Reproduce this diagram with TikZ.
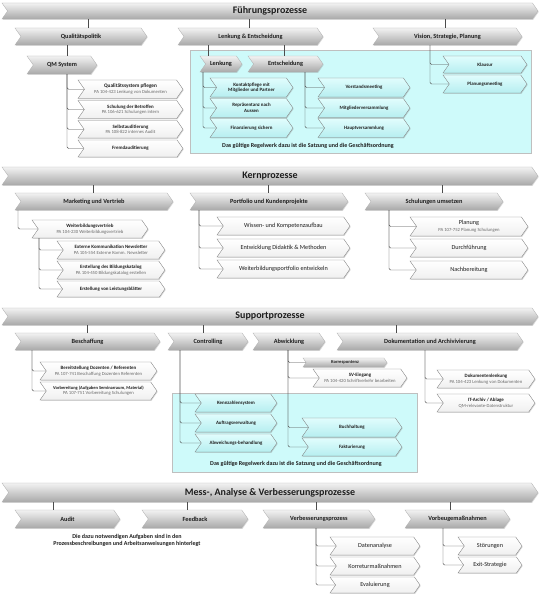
\documentclass[tikz,border=0pt]{standalone}
\usepackage{fontspec}
\setmainfont{Carlito}
\usetikzlibrary{shapes.symbols,shadows}
\definecolor{subc}{RGB}{105,105,105}
\definecolor{cyanA}{RGB}{225,253,253}
\definecolor{cyanB}{RGB}{182,238,240}
\definecolor{cyanC}{RGB}{206,250,250}
\definecolor{txt}{RGB}{30,30,30}
\newcommand\myfs[2]{\fontsize{#1}{#2}\selectfont}
\newcommand\pasub[1]{\\{\mdseries\color{subc}\myfs{4.7}{5.4}#1}}
\newcommand\chv[7]{%
  \pgfmathsetmacro\cw{#4-#3}\pgfmathsetmacro\ch{#6-#5}%
  \pgfmathsetmacro\cx{(#3+#4)/2}\pgfmathsetmacro\cy{(#5+#6)/2}%
  \node[#1, minimum width=\cw pt, minimum height=\ch pt] (#2) at (\cx,\cy) {#7};}
\newcommand\vconn[3]{\coordinate (tmpx) at (#3,0);\draw[conn] (#1.south -| tmpx) -- (#2.north -| tmpx);}
\newcommand\bconn[3]{\coordinate (tmpx) at (#3,0);\draw[conn] (#1.south -| tmpx) |- (#2.west);}
\tikzset{
  chev/.style={signal, signal from=west, signal to=east, signal pointer angle=110,
    inner sep=0pt, align=center, text=txt,
    drop shadow={shadow xshift=0.7pt, shadow yshift=-0.9pt, opacity=0.3}},
  banner/.style={chev, top color=black!5, bottom color=black!34, draw=black!30, line width=0.3pt,
    font=\bfseries\myfs{10}{12}},
  grp/.style={chev, top color=black!5, bottom color=black!34, draw=black!30, line width=0.3pt,
    font=\bfseries\myfs{6.3}{7}},
  wbox/.style={chev, top color=white, bottom color=black!6, draw=black!50, line width=0.35pt,
    font=\bfseries\myfs{4.9}{5.6}},
  wboxn/.style={wbox, font=\mdseries\myfs{6.2}{7}},
  cbox/.style={wbox, top color=cyanA, bottom color=cyanB},
  area/.style={draw=black!25, line width=0.3pt, fill=cyanC, inner sep=0pt, anchor=north west,
    drop shadow={shadow xshift=1pt, shadow yshift=-1pt, opacity=0.25}},
  conn/.style={draw=black!70, line width=0.45pt, rounded corners=1.5pt},
  note/.style={font=\bfseries\myfs{6}{7.4}, align=center, text=txt, inner sep=0pt}
}
\begin{document}
\begin{tikzpicture}[x=1pt,y=-1pt]
\useasboundingbox[fill=white] (0,0) rectangle (540,599);
% ---------------- Fuehrungsprozesse
\node[area, minimum width=341pt, minimum height=103pt] (ar1) at (190,50) {};
\chv{banner}{b1}{2}{538}{3}{19}{Führungsprozesse}
\chv{grp}{qp}{15}{147}{28}{45}{Qualitätspolitik}
\chv{grp}{le}{178}{323}{28}{45}{Lenkung \& Entscheidung}
\chv{grp}{vs}{373}{522}{28}{45}{Vision, Strategie, Planung}
\chv{grp}{qm}{27}{97}{56}{74}{QM System}
\chv{wbox,font=\bfseries\myfs{5.3}{6}}{q1}{78}{183}{80}{98.5}{Qualitätssystem pflegen\pasub{PA 104-423 Lenkung von Dokumenten}}
\chv{wbox}{q2}{78}{183}{100.5}{118.5}{Schulung der Betroffen\pasub{PA 106-621 Schulungen intern}}
\chv{wbox}{q3}{78}{183}{120.5}{138}{Selbstauditierung\pasub{PA 108-822 internes Audit}}
\chv{wbox}{q4}{78}{183}{140}{157}{Fremdauditierung}
\chv{grp}{lk}{200}{242}{56}{72}{Lenkung}
\chv{grp}{en}{248}{323}{56}{72}{Entscheidung}
\chv{cbox}{l1}{210}{293}{78}{97}{Kontaktpflege mit\\Mitglieder und Partner}
\chv{cbox}{l2}{210}{293}{98.5}{117.5}{Repräsentanz nach\\Aussen}
\chv{cbox}{l3}{210}{293}{118.5}{137.5}{Finanzierung sichern}
\chv{cbox}{e1}{318}{410}{78}{97}{Vorstandsmeeting}
\chv{cbox}{e2}{318}{410}{98.5}{117.5}{Mitgliederversammlung}
\chv{cbox}{e3}{318}{410}{118.5}{137.5}{Hauptversammlung}
\chv{cbox}{v1}{443}{527}{56}{73}{Klausur}
\chv{cbox}{v2}{443}{527}{75}{93}{Planungsmeeting}
\node[note] (n1) at (308,146) {Das gültige Regelwerk dazu ist die Satzung und die Geschäftsordnung};
\vconn{b1}{qp}{88}\vconn{b1}{le}{249}\vconn{b1}{vs}{445}
\vconn{qp}{qm}{67}
\bconn{qm}{q1}{67}\bconn{qm}{q2}{67}\bconn{qm}{q3}{67}\bconn{qm}{q4}{67}
\vconn{le}{lk}{208}\vconn{le}{en}{284}
\bconn{lk}{l1}{203}\bconn{lk}{l2}{203}\bconn{lk}{l3}{203}
\bconn{en}{e1}{305}\bconn{en}{e2}{305}\bconn{en}{e3}{305}
\bconn{vs}{v1}{430}\bconn{vs}{v2}{430}
% ---------------- Kernprozesse
\chv{banner}{b2}{2}{538}{167}{185}{Kernprozesse}
\chv{grp}{mv}{15}{173}{193}{210}{Marketing und Vertrieb}
\chv{grp}{pk}{190}{348}{193}{210}{Portfolio und Kundenprojekte}
\chv{grp}{su}{365}{503}{193}{210}{Schulungen umsetzen}
\chv{wbox}{wv}{32}{148}{220}{238}{Weiterbildungsvertrieb\pasub{PA 104-230 Weiterbildungsvertrieb}}
\chv{wbox}{m1}{57}{165}{241}{259}{Externe Kommunikation Newsletter\pasub{PA 105-554 Externe Komm. Newsletter}}
\chv{wbox}{m2}{57}{165}{261}{279}{Erstellung des Bildungskatalog\pasub{PA 104-450 Bildungskatalog erstellen}}
\chv{wbox}{m3}{57}{165}{281}{297}{Erstellung von Leistungsblätter}
\chv{wboxn}{p1}{217}{350}{217}{235}{Wissen- und Kompetenzaufbau}
\chv{wboxn}{p2}{217}{350}{239}{257}{Entwicklung Didaktik \& Methoden}
\chv{wboxn}{p3}{217}{350}{260}{278}{Weiterbildungsportfolio entwickeln}
\chv{wboxn}{s1}{410}{528}{217}{236}{Planung\pasub{PA 107-752 Planung Schulungen}}
\chv{wboxn}{s2}{410}{528}{239}{257}{Durchführung}
\chv{wboxn}{s3}{410}{528}{261}{279}{Nachbereitung}
\vconn{b2}{mv}{93}\vconn{b2}{pk}{268}\vconn{b2}{su}{442}
\bconn{mv}{wv}{18}
\bconn{wv}{m1}{39}\bconn{wv}{m2}{39}\bconn{wv}{m3}{39}
\bconn{pk}{p1}{199}\bconn{pk}{p2}{199}\bconn{pk}{p3}{199}
\bconn{su}{s1}{389}\bconn{su}{s2}{389}\bconn{su}{s3}{389}
% ---------------- Supportprozesse
\node[area, minimum width=245pt, minimum height=79pt] (ar2) at (172,393) {};
\chv{banner}{b3}{2}{538}{308}{325}{Supportprozesse}
\chv{grp}{bs}{15}{160}{333}{350}{Beschaffung}
\chv{grp}{ct}{168}{248}{333}{350}{Controlling}
\chv{grp}{aw}{253}{325}{333}{350}{Abwicklung}
\chv{grp}{dk}{337}{523}{333}{350}{Dokumentation und Archivivierung}
\chv{wbox}{bs1}{40}{157}{362}{380}{Bereitstellung Dozenten / Referenten\pasub{PA 107-741 Beschaffung Dozenten Referenten}}
\chv{wbox,font=\bfseries\myfs{4.5}{5.3}}{bs2}{40}{157}{382}{400}{Vorbereitung (Aufgaben Seminarraum, Material)\pasub{PA 107-751 Vorbereitung Schulungen}}
\chv{cbox}{c1}{195}{277}{394}{412}{Kennzahlensystem}
\chv{cbox}{c2}{195}{277}{414}{432}{Auftragsverwaltung}
\chv{cbox}{c3}{195}{277}{434}{452}{Abweichungs-behandlung}
\chv{grp,font=\bfseries\myfs{4.6}{5}}{ko}{303}{387}{358}{367}{Korrespontenz}
\chv{wbox}{sv}{313}{407}{369}{387}{SV-Eingang\pasub{PA 104-420 Schriftverkehr bearbeiten}}
\chv{cbox}{bh}{302}{402}{418}{437}{Buchhaltung}
\chv{cbox}{fk}{302}{402}{438}{456}{Fakturierung}
\chv{wbox}{d1}{437}{535}{370}{388}{Dokumentenlenkung\pasub{PA 104-423 Lenkung von Dokumenten}}
\chv{wbox}{d2}{437}{535}{394}{412}{IT-Archiv / Ablage\pasub{QM-relevante-Datenstruktur}}
\node[note] (n2) at (296,464) {Das gültige Regelwerk dazu ist die Satzung und die Geschäftsordnung};
\vconn{b3}{bs}{87}\vconn{b3}{ct}{203}\vconn{b3}{dk}{396}
\bconn{bs}{bs1}{32}\bconn{bs}{bs2}{32}
\bconn{ct}{c1}{180}\bconn{ct}{c2}{180}\bconn{ct}{c3}{180}
\bconn{aw}{ko}{288}\bconn{aw}{sv}{288}\bconn{aw}{bh}{288}\bconn{aw}{fk}{288}
\bconn{dk}{d1}{425}\bconn{dk}{d2}{425}
% ---------------- Mess-, Analyse & Verbesserungsprozesse
\chv{banner}{b4}{2}{538}{483}{502}{Mess-, Analyse \& Verbesserungsprozesse}
\chv{grp}{au}{15}{120}{510}{528}{Audit}
\chv{grp}{fb}{142}{248}{510}{528}{Feedback}
\chv{grp}{vp}{263}{375}{510}{528}{Verbesserungsprozess}
\chv{grp}{vm}{405}{510}{510}{528}{Vorbeugemaßnahmen}
\node[note] (n3) at (127,540.5) {Die dazu notwendigen Aufgaben sind in den\\Prozessbeschreibungen und Arbeitsanweisungen hinterlegt};
\chv{wboxn}{x1}{330}{420}{537}{555}{Datenanalyse}
\chv{wboxn}{x2}{330}{420}{557}{575}{Korreturmaßnahmen}
\chv{wboxn}{x3}{330}{420}{577}{593}{Evaluierung}
\chv{wboxn}{y1}{458}{522}{537}{555}{Störungen}
\chv{wboxn}{y2}{458}{522}{557}{573}{Exit-Strategie}
\vconn{b4}{au}{53}\vconn{b4}{fb}{187}\vconn{b4}{vp}{316}\vconn{b4}{vm}{450}
\bconn{vp}{x1}{316}\bconn{vp}{x2}{316}\bconn{vp}{x3}{316}
\bconn{vm}{y1}{443}\bconn{vm}{y2}{443}
\end{tikzpicture}
\end{document}
